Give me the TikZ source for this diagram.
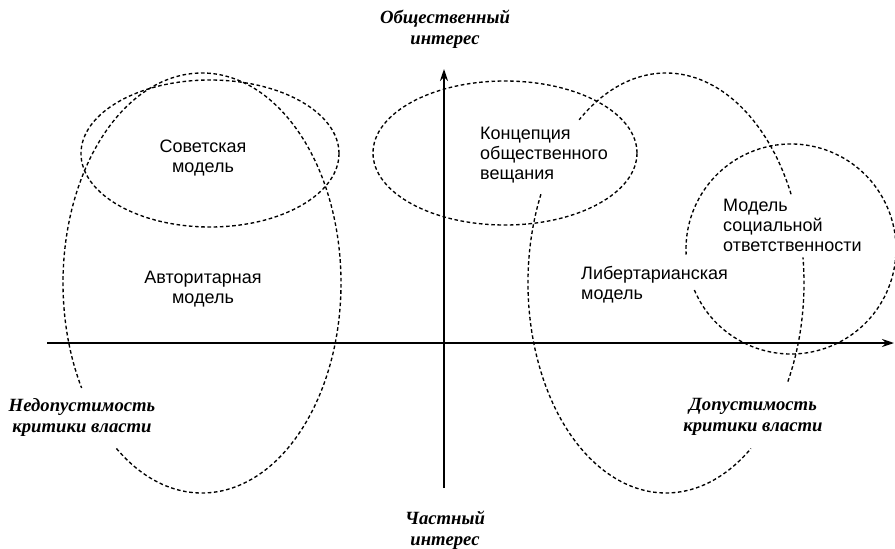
\documentclass[tikz,border=0pt]{standalone}
\usepackage{fontspec}
\setmainfont{Liberation Sans}
\newfontfamily\axisfont{Liberation Serif}
\usetikzlibrary{arrows.meta}

\tikzset{
  dotline/.style={line width=1.35pt,dash pattern=on 3.6pt off 2.6pt},
  axisline/.style={line width=1.9pt,-{Stealth[length=12pt,width=8pt]}},
  modeltext/.style={font=\fontsize{18}{20}\selectfont,inner sep=0pt},
  axistext/.style={font=\axisfont\fontsize{18.7}{21}\selectfont\bfseries\itshape,align=center,inner sep=0pt}
}

\begin{document}
\begin{tikzpicture}[x=1pt,y=1pt]
\useasboundingbox (0,0) rectangle (895,-549);
%
\coordinate (xl) at (47,-343);
\coordinate (xr) at (894,-343);
\coordinate (yb) at (444,-488);
\coordinate (yt) at (444,-69);
\draw[axisline] (xl) -- (xr);
\draw[axisline] (yb) -- (yt);
%
\coordinate (sov) at (210,-153.5);
\coordinate (aut) at (202,-283);
\coordinate (con) at (505,-153);
\coordinate (lib) at (666,-283);
\coordinate (soc) at (791,-249);
%
\draw[dotline] (sov) ellipse [x radius=129,y radius=73.5];
\draw[dotline] (con) ellipse [x radius=132,y radius=72];
\draw[dotline] ([shift={(232:139 and 210)}]aut) arc[start angle=232,end angle=570,x radius=139,y radius=210];
\draw[dotline] ([shift={(155:138 and 210)}]lib) arc[start angle=155,end angle=308,x radius=138,y radius=210];
\draw[dotline] ([shift={(-28:138 and 210)}]lib) arc[start angle=-28,end angle=7,x radius=138,y radius=210];
\draw[dotline] ([shift={(25:138 and 210)}]lib) arc[start angle=25,end angle=129,x radius=138,y radius=210];
\draw[dotline] ([shift={(203:105)}]soc) arc[start angle=203,end angle=543,radius=105];
%
\node[modeltext,align=center] (soviet) at (203,-158) {Советская\\модель};
\node[modeltext,align=center] (author) at (203,-289.5) {Авторитарная\\модель};
\node[modeltext,align=left,anchor=west] (concept) at (480,-155.5) {Концепция\\общественного\\вещания};
\node[modeltext,align=left,anchor=west] (social) at (723,-225.5) {Модель\\социальной\\ответственности};
\node[modeltext,align=left,anchor=west] (libert) at (581,-284.5) {Либертарианская\\модель};
%
\node[axistext] (public) at (445,-29) {Общественный\\интерес};
\node[axistext] (private) at (445,-530) {Частный\\интерес};
\node[axistext] (forbid) at (82,-417) {Недопустимость\\критики власти};
\node[axistext] (allow) at (753,-417) {Допустимость\\критики власти};
\end{tikzpicture}
\end{document}
